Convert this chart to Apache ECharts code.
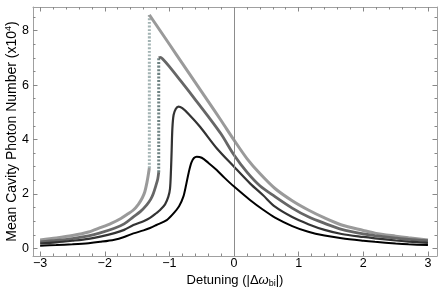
<!DOCTYPE html>
<html>
<head>
<meta charset="utf-8">
<script src="https://cdn.jsdelivr.net/npm/echarts@6/dist/echarts.min.js"></script>
<style>
html,body{margin:0;padding:0;background:#fff;}
#c{width:443px;height:294px;}
</style>
</head>
<body>
<div id="c"></div>
<script>
// ---- Data ----
// Curve A (lightest gray): lower branch, jump, upper branch
const aLowX = [-3.0, -2.75, -2.5, -2.25, -2.07, -1.9, -1.75, -1.64, -1.557, -1.48, -1.42, -1.38, -1.35, -1.33, -1.31];
const aLowY = [0.31, 0.38, 0.47, 0.6, 0.76, 0.92, 1.1, 1.27, 1.41, 1.62, 1.85, 2.08, 2.39, 2.65, 2.95];
const aUpX  = [-1.31, -1.2, -1.0, -0.8, -0.6, -0.4, -0.2, 0, 0.2, 0.4, 0.634, 0.9, 1.149, 1.4, 1.665, 2.0, 2.18, 2.5, 2.7, 3.0];
const aUpY  = [8.58, 8.2, 7.5, 6.8, 6.1, 5.4, 4.7, 3.98, 3.3, 2.75, 2.2, 1.75, 1.41, 1.12, 0.86, 0.66, 0.56, 0.45, 0.39, 0.31];

// Curve B (dark gray)
const bLowX = [-3.0, -2.75, -2.5, -2.25, -2.07, -1.85, -1.7, -1.557, -1.45, -1.35, -1.29, -1.248, -1.21, -1.18, -1.165];
const bLowY = [0.24, 0.29, 0.36, 0.46, 0.57, 0.74, 0.9, 1.16, 1.35, 1.6, 1.8, 2.02, 2.3, 2.55, 2.8];
const bUpX  = [-1.165, -1.14, -1.1, -1.0, -0.8, -0.6, -0.4, -0.2, 0, 0.2, 0.4, 0.634, 0.9, 1.149, 1.4, 1.665, 2.0, 2.18, 2.5, 2.7, 3.0];
const bUpY  = [7.0, 7.02, 6.95, 6.68, 6.08, 5.47, 4.85, 4.2, 3.43, 2.8, 2.3, 1.9, 1.48, 1.16, 0.92, 0.7, 0.53, 0.47, 0.38, 0.33, 0.28];

// Curve C (darker gray)
const cX = [-3.0, -2.75, -2.5, -2.25, -2.07, -1.85, -1.7, -1.557, -1.4, -1.3, -1.2, -1.144, -1.067, -1.016, -0.99, -0.975, -0.965, -0.954, -0.935, -0.9, -0.86, -0.8, -0.7, -0.526, -0.268, 0, 0.247, 0.45, 0.634, 0.9, 1.149, 1.4, 1.665, 2.0, 2.18, 2.5, 2.7, 3.0];
const cY = [0.18, 0.22, 0.28, 0.35, 0.43, 0.56, 0.68, 0.86, 1.0, 1.12, 1.3, 1.41, 1.62, 1.9, 2.2, 2.9, 3.6, 4.4, 4.9, 5.13, 5.21, 5.15, 4.93, 4.47, 3.68, 3.0, 2.39, 1.95, 1.53, 1.15, 0.89, 0.68, 0.53, 0.42, 0.37, 0.29, 0.25, 0.2];

// Curve D (black)
const dX = [-3.0, -2.75, -2.5, -2.25, -2.07, -1.85, -1.7, -1.557, -1.4, -1.3, -1.2, -1.041, -0.95, -0.85, -0.784, -0.74, -0.7, -0.66, -0.62, -0.577, -0.5, -0.4, -0.268, -0.15, 0, 0.247, 0.45, 0.634, 0.9, 1.149, 1.4, 1.665, 2.0, 2.18, 2.5, 2.7, 3.0];
const dY = [0.1, 0.12, 0.15, 0.19, 0.24, 0.32, 0.42, 0.55, 0.66, 0.75, 0.86, 1.04, 1.25, 1.55, 1.9, 2.35, 2.8, 3.15, 3.32, 3.37, 3.33, 3.15, 2.88, 2.6, 2.27, 1.78, 1.42, 1.13, 0.82, 0.61, 0.47, 0.37, 0.28, 0.24, 0.18, 0.15, 0.12];

// Axis ticks
const xMajor = [-3, -2, -1, 0, 1, 2, 3];
const xMinor = [-2.8,-2.6,-2.4,-2.2,-1.8,-1.6,-1.4,-1.2,-0.8,-0.6,-0.4,-0.2,0.2,0.4,0.6,0.8,1.2,1.4,1.6,1.8,2.2,2.4,2.6,2.8];
const yMajor = [0, 2, 4, 6, 8];
const yMinor = [0.5,1,1.5,2.5,3,3.5,4.5,5,5.5,6.5,7,7.5,8.5];

const X_MIN = -3.11, X_MAX = 3.14, Y_MIN = -0.28, Y_MAX = 8.87;

function zip(xs, ys){ return xs.map((x,i)=>[x, ys[i]]); }

const FRAME = '#a0a0a0';
const FONT = 'Liberation Sans, Arial, Helvetica, sans-serif';

function xAx(pos, major, labels){
  return {
    type:'value', position:pos, min:X_MIN, max:X_MAX,
    axisLine:{show: major, onZero:false, lineStyle:{color:FRAME, width:1}},
    axisTick:{show:true, inside:true, length: major?4.5:2.5, customValues: major?xMajor:xMinor, lineStyle:{color:'#888', width:1}},
    axisLabel:{show: labels, customValues:xMajor, margin:1, color:'#000', fontSize:12.5, fontFamily:FONT,
      formatter: v => String(v).replace('-', '\u2212')},
    splitLine:{show:false},
    name: labels ? 'Detuning (|Δ{w|ω}{s|bi}|)' : '',
    nameLocation:'middle', nameGap:16, nameMoveOverlap:false,
    nameTextStyle:{color:'#000', fontSize:13, fontFamily:FONT,
      rich:{w:{fontStyle:'italic', fontSize:13, fontFamily:FONT, color:'#000'},
            s:{fontSize:9, fontFamily:FONT, color:'#000', padding:[7,0,0,0]}}}
  };
}
function yAx(pos, major, labels){
  return {
    type:'value', position:pos, min:Y_MIN, max:Y_MAX,
    axisLine:{show: major, onZero:false, lineStyle:{color:FRAME, width:1}},
    axisTick:{show:true, inside:true, length: major?4.5:2.5, customValues: major?yMajor:yMinor, lineStyle:{color:'#888', width:1}},
    axisLabel:{show: labels, customValues:yMajor, margin:4, color:'#000', fontSize:12.5, fontFamily:FONT},
    splitLine:{show:false},
    name: labels ? 'Mean Cavity Photon Number (x10{p|4})' : '',
    nameLocation:'middle', nameGap:12, nameMoveOverlap:false,
    nameTextStyle:{color:'#000', fontSize:14, fontFamily:FONT,
      rich:{p:{fontSize:9, fontFamily:FONT, color:'#000', padding:[0,0,8,0]}}}
  };
}

function line(data, color, width, z, dash){
  return {
    type:'line', data:data, xAxisIndex:0, yAxisIndex:0,
    showSymbol:false, symbol:'none', smooth:0.3,
    lineStyle:{color:color, width:width, type: dash || 'solid', cap:'butt'},
    z:z, silent:true, animation:false
  };
}

const chart = echarts.init(document.getElementById('c'), null, {renderer:'canvas'});
chart.setOption({
  animation:false,
  backgroundColor:'#fff',
  grid:{left:33, right:6, top:7, bottom:38, containLabel:false, outerBoundsMode:'none'},
  xAxis:[xAx('bottom', true, true), xAx('bottom', false, false), xAx('top', true, false), xAx('top', false, false)],
  yAxis:[yAx('left', true, true), yAx('left', false, false), yAx('right', true, false), yAx('right', false, false)],
  series:[
    Object.assign(line([], '#888', 1, 1), {
      markLine:{silent:true, symbol:'none', animation:false, label:{show:false},
        lineStyle:{color:'#8c8c8c', width:1, type:'solid'}, data:[{xAxis:0}]}
    }),
    line(zip(aLowX, aLowY), '#9a9a9a', 3, 2),
    line([[aLowX[aLowX.length-1], aLowY[aLowY.length-1]], [aUpX[0], aUpY[0]]], '#a2b3b3', 3, 2, [2,1.6]),
    line(zip(aUpX, aUpY), '#9a9a9a', 3, 2),
    line(zip(bLowX, bLowY), '#666666', 2.8, 3),
    line([[bLowX[bLowX.length-1], bLowY[bLowY.length-1]], [bUpX[0], bUpY[0]]], '#6e8282', 3, 3, [2,1.6]),
    line(zip(bUpX, bUpY), '#666666', 2.8, 3),
    line(zip(cX, cY), '#333333', 2.2, 4),
    line(zip(dX, dY), '#000000', 2, 5)
  ]
});
</script>
</body>
</html>
